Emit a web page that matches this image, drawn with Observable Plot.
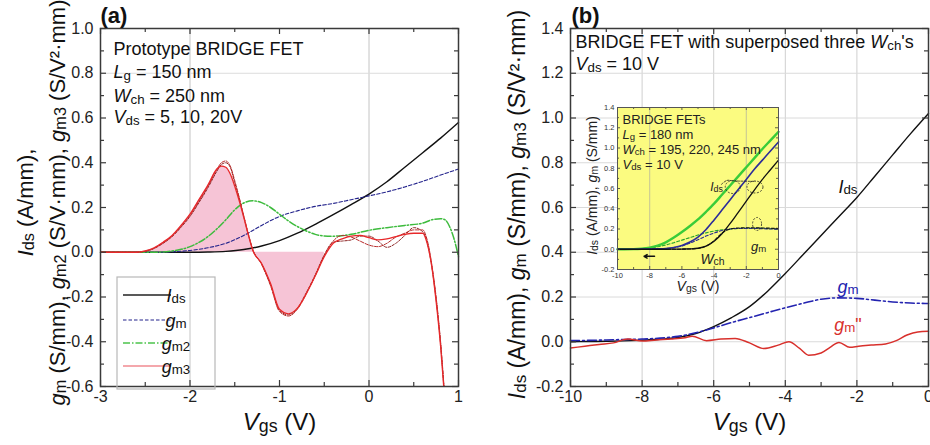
<!DOCTYPE html>
<html><head><meta charset="utf-8">
<script src="https://cdn.jsdelivr.net/npm/d3@7"></script>
<script src="https://cdn.jsdelivr.net/npm/@observablehq/plot@0.6"></script>
<style>
body{margin:0;background:#fff;}
#wrap{position:relative;width:930px;height:445px;overflow:hidden;background:#fff;}
</style></head><body><div id="wrap"></div>
<script>
// ================= DATA =================
// Panel (a)
const vgsA_ids = [-3, -2.5, -2, -1.8, -1.6, -1.4, -1.2, -1.0, -0.8, -0.6, -0.4, -0.2, 0, 0.2, 0.4, 0.6, 0.8, 1.0];
const idsA     = [0, 0, 0, 0.001, 0.004, 0.012, 0.028, 0.052, 0.085, 0.125, 0.168, 0.213, 0.26, 0.315, 0.38, 0.445, 0.51, 0.58];
const vgsA_gm  = [-3, -2.4, -2.2, -2.0, -1.8, -1.6, -1.4, -1.2, -1.0, -0.8, -0.6, -0.4, -0.2, 0, 0.2, 0.4, 0.6, 0.8, 1.0];
const gmA      = [0, 0, 0.002, 0.008, 0.02, 0.04, 0.075, 0.12, 0.16, 0.185, 0.205, 0.218, 0.235, 0.252, 0.27, 0.292, 0.317, 0.345, 0.372];
const vgsA_gm2 = [-3, -2.4, -2.2, -2.0, -1.8, -1.6, -1.5, -1.4, -1.3, -1.2, -1.1, -1.0, -0.9, -0.8, -0.7, -0.6, -0.5, -0.4, -0.2, 0, 0.2, 0.4, 0.6, 0.7, 0.8, 0.85, 0.9, 0.95, 1.0];
const gm2A     = [0, 0, 0.006, 0.025, 0.07, 0.145, 0.19, 0.22, 0.23, 0.222, 0.2, 0.17, 0.14, 0.115, 0.095, 0.08, 0.073, 0.072, 0.08, 0.098, 0.11, 0.12, 0.13, 0.145, 0.15, 0.145, 0.115, 0.06, -0.02];
const vgsA_gm3 = [-3, -2.6, -2.5, -2.4, -2.3, -2.2, -2.1, -2.0, -1.9, -1.8, -1.7, -1.65, -1.6, -1.55, -1.5, -1.45, -1.4, -1.35, -1.3, -1.2, -1.1, -1.0, -0.9, -0.8, -0.7, -0.6, -0.5, -0.4, -0.3, -0.2, -0.1, 0, 0.1, 0.2, 0.3, 0.4, 0.5, 0.6, 0.65, 0.7, 0.75, 0.8, 0.85, 0.9];
const gm3A_5V  = [0, 0, 0.006, 0.02, 0.045, 0.075, 0.12, 0.17, 0.235, 0.3, 0.372, 0.385, 0.38, 0.35, 0.295, 0.23, 0.157, 0.08, 0.01, -0.05, -0.14, -0.255, -0.275, -0.25, -0.185, -0.105, -0.02, 0.04, 0.06, 0.072, 0.075, 0.065, 0.055, 0.06, 0.07, 0.08, 0.085, 0.085, 0.04, -0.06, -0.22, -0.42, -0.68, -0.9];
const gm3A_10V = [0, 0, 0.005, 0.018, 0.042, 0.072, 0.115, 0.165, 0.228, 0.295, 0.37, 0.4, 0.408, 0.385, 0.32, 0.245, 0.165, 0.085, 0.015, -0.055, -0.15, -0.265, -0.285, -0.255, -0.185, -0.105, -0.015, 0.05, 0.075, 0.068, 0.05, 0.032, 0.025, 0.04, 0.068, 0.085, 0.1, 0.1, 0.055, -0.05, -0.2, -0.4, -0.66, -0.9];
const gm3A_20V = [0, 0, 0.004, 0.017, 0.04, 0.07, 0.112, 0.16, 0.222, 0.288, 0.362, 0.392, 0.4, 0.38, 0.31, 0.24, 0.16, 0.082, 0.012, -0.052, -0.145, -0.26, -0.28, -0.25, -0.18, -0.1, -0.012, 0.045, 0.05, 0.055, 0.072, 0.072, 0.05, 0.022, 0.04, 0.075, 0.11, 0.092, 0.045, -0.06, -0.21, -0.41, -0.67, -0.9];

const xTicksA = [-3, -2, -1, 0, 1];
const xMinorA = [-2.5, -1.5, -0.5, 0.5];
const yTicksA = [-0.6, -0.4, -0.2, 0, 0.2, 0.4, 0.6, 0.8, 1.0];
const yMinorA = [-0.5, -0.3, -0.1, 0.1, 0.3, 0.5, 0.7, 0.9];
const gridXA = [-2, 0];
const gridYA = [0.8];
const infoA = ["Prototype BRIDGE FET", "_L_~g~ = 150 nm", "_W_~ch~ = 250 nm", "_V_~ds~ = 5, 10, 20V"];
const legendLabelsA = ["_I_~ds~", "_g_~m~", "_g_~m2~", "_g_~m3~"];
const yTitleA = ["_I_~ds~ (A/mm),", "_g_~m~ (S/mm), _g_~m2~ (S/V·mm), _g_~m3~ (S/V²·mm)"];
const xTitle = "_V_~gs~ (V)";

// Panel (b)
const vgsB   = [-10, -9.5, -9, -8.5, -8, -7.5, -7, -6.5, -6, -5.5, -5, -4.5, -4, -3.5, -3, -2.5, -2, -1.5, -1, -0.5, 0];
const idsB   = [0.0, 0.001, 0.002, 0.004, 0.007, 0.011, 0.019, 0.037, 0.068, 0.108, 0.157, 0.225, 0.305, 0.39, 0.475, 0.56, 0.645, 0.74, 0.835, 0.93, 1.02];
const gmB    = [0.005, 0.006, 0.008, 0.01, 0.012, 0.016, 0.024, 0.04, 0.062, 0.086, 0.108, 0.13, 0.152, 0.172, 0.19, 0.196, 0.194, 0.186, 0.178, 0.173, 0.171];
const vgsB_r = [-10, -9.6, -9.2, -8.8, -8.4, -8, -7.6, -7.2, -6.8, -6.6, -6.2, -5.8, -5.4, -5.0, -4.6, -4.2, -3.9, -3.6, -3.35, -3.0, -2.75, -2.5, -2.2, -1.95, -1.6, -1.2, -0.9, -0.6, -0.3, 0];
const gm3B   = [-0.028, -0.02, -0.012, -0.005, 0.012, 0.003, 0.008, 0.012, 0.018, 0.025, 0.005, 0.012, 0.015, -0.005, -0.03, -0.015, 0.0, -0.03, -0.06, -0.05, -0.025, -0.003, -0.025, -0.02, -0.015, -0.01, 0.005, 0.03, 0.044, 0.047];
const xTicksB = [-10, -8, -6, -4, -2, 0];
const xMinorB = [-9, -7, -5, -3, -1];
const yTicksB = [-0.2, 0, 0.2, 0.4, 0.6, 0.8, 1.0, 1.2, 1.4];
const yMinorB = [-0.1, 0.1, 0.3, 0.5, 0.7, 0.9, 1.1, 1.3];
const gridXB = [-8, -6, -4, -2];
const gridYB = [0, 0.2, 0.4, 0.6, 0.8, 1.0, 1.2];
const infoB = ["BRIDGE FET with superposed three _W_~ch~'s", "_V_~ds~ = 10 V"];
const curveLabelsB = ["_I_~ds~", "_g_~m~", "_g_~m~\""];
const curveLabelXB = [-2.25, -2.25, -2.25];
const curveLabelYB = [0.69, 0.245, 0.075];
const yTitleB = "_I_~ds~ (A/mm), _g_~m~ (S/mm), _g_~m3~ (S/V²·mm)";

// Inset of (b)
const vgsIn     = [-10, -9, -8.5, -8, -7.5, -7, -6.5, -6, -5.5, -5, -4.5, -4, -3.5, -3, -2.5, -2, -1.5, -1, -0.5, 0];
const idsIn_195 = [0, 0, 0, 0, 0, 0, 0.001, 0.002, 0.004, 0.01, 0.03, 0.078, 0.155, 0.255, 0.365, 0.475, 0.585, 0.69, 0.785, 0.88];
const idsIn_220 = [0, 0, 0.001, 0.002, 0.004, 0.008, 0.018, 0.038, 0.072, 0.12, 0.195, 0.29, 0.39, 0.49, 0.59, 0.69, 0.79, 0.88, 0.97, 1.06];
const idsIn_245 = [0, 0.001, 0.005, 0.015, 0.035, 0.068, 0.115, 0.17, 0.23, 0.295, 0.37, 0.45, 0.54, 0.63, 0.72, 0.81, 0.9, 0.99, 1.075, 1.16];
const gmIn_195  = [0, 0, 0, 0, 0, 0, 0, 0.001, 0.003, 0.008, 0.03, 0.085, 0.16, 0.2, 0.21, 0.212, 0.212, 0.21, 0.208, 0.205];
const gmIn_220  = [0, 0, 0, 0.001, 0.003, 0.007, 0.016, 0.032, 0.06, 0.095, 0.13, 0.16, 0.185, 0.2, 0.205, 0.205, 0.205, 0.203, 0.2, 0.198];
const gmIn_245  = [0, 0.003, 0.006, 0.012, 0.025, 0.042, 0.065, 0.09, 0.115, 0.14, 0.162, 0.18, 0.192, 0.2, 0.205, 0.208, 0.208, 0.206, 0.203, 0.2];
const gridXIn = [-8, -2];
const infoIn = ["BRIDGE FETs", "_L_~g~ = 180 nm", "_W_~ch~ = 195, 220, 245 nm", "_V_~ds~ = 10 V"];
const annIn = ["_I_~ds~", "_g_~m~", "_W_~ch~"];
const annInX = [-3.85, -1.24, -4.1];
const annInY = [0.61, 0.02, -0.1];
const ellInX = [-2.81, -1.43, -1.3];
const ellInY = [0.61, 0.61, 0.245];
const linkInX = [-3.55, -3.2, -2.8, -1.45];
const linkInY = [0.64, 0.68, 0.675, 0.67];
const arrowIn = [{x1: -7.7, x2: -8.35, y: -0.07}];
const yTitleIn = "_I_~ds~ (A/mm), _g_~m~ (S/mm)";

// ================= HELPERS =================
const FONT = "'Liberation Sans', Arial, Helvetica, sans-serif";
const NS = "http://www.w3.org/2000/svg";
const FRAME = "#3a3a3a";
const pts = (xs, ys) => xs.map((x, i) => ({x, y: ys[i]}));
const fmt1 = d => d.toFixed(1);
const fmtInt = d => String(d);
const wrap = document.getElementById("wrap");

function ticks(majX, minX, majY, minY, W, H, L, l, sw) {
  const o = {stroke: FRAME, strokeWidth: sw};
  return [
    Plot.ruleX(majX, {...o, insetTop: H - L}), Plot.ruleX(majX, {...o, insetBottom: H - L}),
    Plot.ruleX(minX, {...o, insetTop: H - l}), Plot.ruleX(minX, {...o, insetBottom: H - l}),
    Plot.ruleY(majY, {...o, insetRight: W - L}), Plot.ruleY(majY, {...o, insetLeft: W - L}),
    Plot.ruleY(minY, {...o, insetRight: W - l}), Plot.ruleY(minY, {...o, insetLeft: W - l})
  ];
}
function txt(s, o) { return Plot.text([s], {text: d => d, ...o}); }

function place(el, left, top) {
  el.style.position = "absolute"; el.style.left = left + "px"; el.style.top = top + "px";
  wrap.appendChild(el);
}

function richText(root) {
  root.querySelectorAll("text, tspan").forEach(el => {
    if (el.childElementCount) return;
    const s = el.textContent;
    if (!/[_~]/.test(s)) return;
    const fs = parseFloat(getComputedStyle(el).fontSize) || 16;
    el.textContent = "";
    const re = /_([^_]+)_|~([^~]+)~|([^_~]+)/g;
    let m, shift = 0;
    while ((m = re.exec(s))) {
      const t = document.createElementNS(NS, "tspan");
      let target = 0;
      if (m[1] != null) { t.textContent = m[1]; t.setAttribute("font-style", "italic"); }
      else if (m[2] != null) { t.textContent = m[2]; t.setAttribute("font-size", (fs * 0.74).toFixed(1)); target = fs * 0.07; }
      else t.textContent = m[3];
      if (target !== shift) { t.setAttribute("dy", (target - shift).toFixed(2)); shift = target; }
      el.appendChild(t);
    }
  });
}

// ================= PANEL (a) =================
const WA = 358, HA = 358;
const pinkFill = pts(vgsA_gm3, gm3A_5V).filter(d => d.x <= -0.5);
const plotA = Plot.plot({
  width: 465, height: 445, marginLeft: 100, marginRight: 7, marginTop: 28, marginBottom: 59,
  style: {fontFamily: FONT, fontSize: "16px", color: "#222", background: "transparent", overflow: "visible"},
  x: {domain: [-3, 1], ticks: xTicksA, tickFormat: fmtInt, tickSize: 0, tickPadding: 4, label: null},
  y: {domain: [-0.6, 1.0], ticks: yTicksA, tickFormat: fmt1, tickSize: 0, tickPadding: 7, label: null},
  marks: [
    Plot.ruleX(gridXA, {stroke: "#c4c4c4", strokeWidth: 1}),
    Plot.ruleY(gridYA, {stroke: "#dcdcdc", strokeWidth: 1}),
    Plot.areaY(pinkFill, {x: "x", y1: 0, y2: "y", fill: "#f6c4d6", curve: "monotone-x"}),
    Plot.line(pts(vgsA_ids, idsA), {x: "x", y: "y", stroke: "#111", strokeWidth: 1.4, curve: "monotone-x"}),
    Plot.line(pts(vgsA_gm, gmA), {x: "x", y: "y", stroke: "#23238c", strokeWidth: 1.1, strokeDasharray: "3.5,2", curve: "monotone-x"}),
    Plot.line(pts(vgsA_gm2, gm2A), {x: "x", y: "y", stroke: "#3dbb3d", strokeWidth: 1.5, strokeDasharray: "7,2,1.5,2", curve: "monotone-x"}),
    Plot.line(pts(vgsA_gm3, gm3A_20V), {x: "x", y: "y", stroke: "#8c2222", strokeWidth: 1, strokeDasharray: "2.5,1.5", curve: "monotone-x", clip: true}),
    Plot.line(pts(vgsA_gm3, gm3A_10V), {x: "x", y: "y", stroke: "#b82a2a", strokeWidth: 1, strokeDasharray: "3.5,1.5", curve: "monotone-x", clip: true}),
    Plot.line(pts(vgsA_gm3, gm3A_5V), {x: "x", y: "y", stroke: "#e8282a", strokeWidth: 1.3, curve: "monotone-x", clip: true}),
    ...ticks(xTicksA, xMinorA, yTicksA, yMinorA, WA, HA, 6, 4, 1.2),
    Plot.frame({stroke: FRAME, strokeWidth: 1.5}),
    ...infoA.map((s, i) => txt(s, {frameAnchor: "top-left", textAnchor: "start", lineAnchor: "top", dx: 13, dy: [14.2, 37.2, 61.2, 82.2][i], fontSize: 18, fill: "#111"})),
    txt("(a)", {frameAnchor: "top-left", textAnchor: "start", lineAnchor: "top", dx: 0, dy: -21.6, fontSize: 22, fontWeight: "bold", fill: "#111"}),
    txt(xTitle, {frameAnchor: "bottom", textAnchor: "middle", lineAnchor: "middle", dy: 36, fontSize: 24, fill: "#111"}),
    txt(yTitleA[0], {frameAnchor: "left", textAnchor: "middle", lineAnchor: "middle", rotate: -90, dx: -75, dy: -5, fontSize: 22, fill: "#111"}),
    txt(yTitleA[1], {frameAnchor: "left", textAnchor: "middle", lineAnchor: "middle", rotate: -90, dx: -43, dy: -5, fontSize: 22, fill: "#111"})
  ]
});
place(plotA, 0, 0);

// legend of (a)
(function () {
  const g = document.createElementNS(NS, "g");
  g.setAttribute("font-family", FONT);
  const rect = document.createElementNS(NS, "rect");
  Object.entries({x: 117, y: 277, width: 98, height: 112, fill: "none", stroke: "#b8b8b8", "stroke-width": 1.2}).forEach(([k, v]) => rect.setAttribute(k, v));
  g.appendChild(rect);
  const styles = [
    {stroke: "#222", dash: null, w: 1.3},
    {stroke: "#23238c", dash: "3.5,2", w: 1.1},
    {stroke: "#4cc44c", dash: "7,2,1.5,2", w: 1.4},
    {stroke: "#f08a90", dash: null, w: 1.6}
  ];
  const ys = [295, 320, 343, 366];
  legendLabelsA.forEach((lab, i) => {
    const ln = document.createElementNS(NS, "line");
    Object.entries({x1: 123, x2: 171, y1: ys[i], y2: ys[i], stroke: styles[i].stroke, "stroke-width": styles[i].w}).forEach(([k, v]) => ln.setAttribute(k, v));
    if (styles[i].dash) ln.setAttribute("stroke-dasharray", styles[i].dash);
    g.appendChild(ln);
    const t = document.createElementNS(NS, "text");
    t.setAttribute("x", 176); t.setAttribute("y", ys[i] + 6.5);
    t.setAttribute("font-size", 18); t.setAttribute("fill", "#111");
    t.textContent = lab;
    g.appendChild(t);
  });
  plotA.appendChild(g);
})();

// ================= PANEL (b) =================
const WB = 358, HB = 358;
const plotB = Plot.plot({
  width: 465, height: 445, marginLeft: 105, marginRight: 2, marginTop: 28, marginBottom: 59,
  style: {fontFamily: FONT, fontSize: "16px", color: "#222", background: "transparent"},
  x: {domain: [-10, 0], ticks: xTicksB, tickFormat: fmtInt, tickSize: 0, tickPadding: 4, label: null},
  y: {domain: [-0.2, 1.4], ticks: yTicksB, tickFormat: fmt1, tickSize: 0, tickPadding: 7, label: null},
  marks: [
    Plot.ruleX(gridXB, {stroke: "#cfcfcf", strokeWidth: 1}),
    Plot.ruleY(gridYB, {stroke: "#dadada", strokeWidth: 1}),
    Plot.line(pts(vgsB, idsB), {x: "x", y: "y", stroke: "#111", strokeWidth: 1.4, curve: "monotone-x"}),
    Plot.line(pts(vgsB, gmB), {x: "x", y: "y", stroke: "#2323b0", strokeWidth: 1.6, strokeDasharray: "9,3,2,3", curve: "monotone-x"}),
    Plot.line(pts(vgsB_r, gm3B), {x: "x", y: "y", stroke: "#d8302c", strokeWidth: 1.5, curve: "monotone-x"}),
    ...ticks(xTicksB, xMinorB, yTicksB, yMinorB, WB, HB, 6, 4, 1.2),
    Plot.frame({stroke: FRAME, strokeWidth: 1.5}),
    Plot.text(curveLabelsB, {x: (d, i) => curveLabelXB[i], y: (d, i) => curveLabelYB[i], text: d => d, fill: (d, i) => ["#111", "#2323b0", "#d8302c"][i], fontSize: 18, lineAnchor: "middle"}),
    ...infoB.map((s, i) => txt(s, {frameAnchor: "top-left", textAnchor: "start", lineAnchor: "top", dx: 5, dy: [7.2, 29.2][i], fontSize: 18, fill: "#111"})),
    txt("(b)", {frameAnchor: "top-left", textAnchor: "start", lineAnchor: "top", dx: 1, dy: -21.6, fontSize: 22, fontWeight: "bold", fill: "#111"}),
    txt(xTitle, {frameAnchor: "bottom", textAnchor: "middle", lineAnchor: "middle", dy: 36, fontSize: 24, fill: "#111"}),
    txt(yTitleB, {frameAnchor: "left", textAnchor: "middle", lineAnchor: "middle", rotate: -90, dx: -53, dy: -3, fontSize: 23, fill: "#111"})
  ]
});
place(plotB, 465, 0);

// ================= INSET =================
const WI = 161, HI = 162;
const plotIn = Plot.plot({
  width: 200, height: 190, marginLeft: 37, marginRight: 2, marginTop: 2, marginBottom: 26,
  style: {fontFamily: FONT, fontSize: "7.5px", color: "#333", background: "transparent", overflow: "visible"},
  x: {domain: [-10, 0], ticks: xTicksB, tickFormat: fmtInt, tickSize: 0, tickPadding: 3, label: null},
  y: {domain: [-0.2, 1.4], ticks: yTicksB, tickFormat: fmt1, tickSize: 0, tickPadding: 3, label: null},
  marks: [
    Plot.frame({fill: "#fbfb80", stroke: null}),
    Plot.ruleX(gridXIn, {stroke: "#b8b89a", strokeWidth: 0.8}),
    Plot.line(pts(vgsIn, gmIn_245), {x: "x", y: "y", stroke: "#2aa52a", strokeWidth: 1.1, strokeDasharray: "3,2", curve: "monotone-x"}),
    Plot.line(pts(vgsIn, gmIn_220), {x: "x", y: "y", stroke: "#2c2c90", strokeWidth: 1.1, strokeDasharray: "3,2", curve: "monotone-x"}),
    Plot.line(pts(vgsIn, gmIn_195), {x: "x", y: "y", stroke: "#111", strokeWidth: 1.1, strokeDasharray: "3,2", curve: "monotone-x"}),
    Plot.line(pts(vgsIn, idsIn_245), {x: "x", y: "y", stroke: "#39cc39", strokeWidth: 2.4, curve: "monotone-x"}),
    Plot.line(pts(vgsIn, idsIn_220), {x: "x", y: "y", stroke: "#2c2c9a", strokeWidth: 1.6, curve: "monotone-x"}),
    Plot.line(pts(vgsIn, idsIn_195), {x: "x", y: "y", stroke: "#111", strokeWidth: 1.3, curve: "monotone-x"}),
    Plot.line(pts(linkInX, linkInY), {x: "x", y: "y", stroke: "#222", strokeWidth: 0.8, strokeDasharray: "2,1.5", curve: "catmull-rom"}),
    (index, scales) => {
      const g = document.createElementNS(NS, "g");
      const rx = [7.5, 8, 4.5], ry = [6.5, 6, 6.5];
      ellInX.forEach((x, i) => {
        const e = document.createElementNS(NS, "ellipse");
        e.setAttribute("cx", scales.x(x)); e.setAttribute("cy", scales.y(ellInY[i]));
        e.setAttribute("rx", rx[i]); e.setAttribute("ry", ry[i]);
        e.setAttribute("fill", "none"); e.setAttribute("stroke", "#222");
        e.setAttribute("stroke-width", 0.8); e.setAttribute("stroke-dasharray", "2,1.5");
        g.appendChild(e);
      });
      return g;
    },
    Plot.arrow(arrowIn, {x1: "x1", x2: "x2", y1: "y", y2: "y", stroke: "#111", strokeWidth: 1.5, headLength: 4}),
    Plot.text(annIn, {x: (d, i) => annInX[i], y: (d, i) => annInY[i], text: d => d, fontSize: (d, i) => [12, 13, 14][i], fill: "#222", lineAnchor: "middle"}),
    ...ticks(xTicksB, xMinorB, yTicksB, yMinorB, WI, HI, 3, 2, 0.8),
    Plot.frame({stroke: "#555", strokeWidth: 1}),
    ...infoIn.map((s, i) => txt(s, {frameAnchor: "top-left", textAnchor: "start", lineAnchor: "top", dx: 5, dy: [7, 22, 37, 52][i], fontSize: 13, fill: "#222"})),
    txt(xTitle, {frameAnchor: "bottom", textAnchor: "middle", lineAnchor: "middle", dy: 17, fontSize: 14, fill: "#222"}),
    txt(yTitleIn, {frameAnchor: "left", textAnchor: "middle", lineAnchor: "middle", rotate: -90, dx: -25, dy: -3, fontSize: 14, fill: "#222"})
  ]
});
place(plotIn, 580, 105);

[plotA, plotB, plotIn].forEach(richText);
</script></body></html>
